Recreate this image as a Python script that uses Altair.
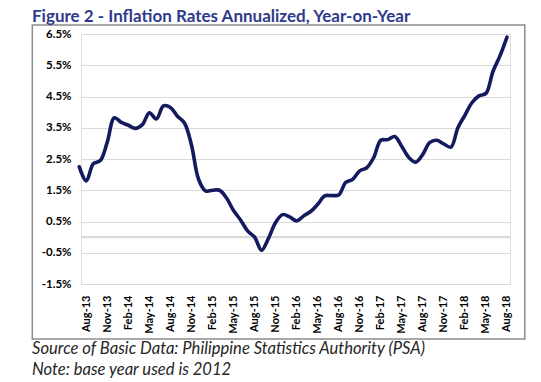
import altair as alt
import pandas as pd

# Monthly year-on-year inflation, Jul-13 .. Aug-18 (percent)
months = ["Jul-13", "Aug-13", "Sep-13", "Oct-13", "Nov-13", "Dec-13",
          "Jan-14", "Feb-14", "Mar-14", "Apr-14", "May-14", "Jun-14",
          "Jul-14", "Aug-14", "Sep-14", "Oct-14", "Nov-14", "Dec-14",
          "Jan-15", "Feb-15", "Mar-15", "Apr-15", "May-15", "Jun-15",
          "Jul-15", "Aug-15", "Sep-15", "Oct-15", "Nov-15", "Dec-15",
          "Jan-16", "Feb-16", "Mar-16", "Apr-16", "May-16", "Jun-16",
          "Jul-16", "Aug-16", "Sep-16", "Oct-16", "Nov-16", "Dec-16",
          "Jan-17", "Feb-17", "Mar-17", "Apr-17", "May-17", "Jun-17",
          "Jul-17", "Aug-17", "Sep-17", "Oct-17", "Nov-17", "Dec-17",
          "Jan-18", "Feb-18", "Mar-18", "Apr-18", "May-18", "Jun-18",
          "Jul-18", "Aug-18"]
inflation = [2.25, 1.80, 2.35, 2.45, 3.05, 3.82,
             3.67, 3.58, 3.48, 3.60, 3.98, 3.78,
             4.20, 4.15, 3.87, 3.65, 2.95, 1.86,
             1.48, 1.50, 1.50, 1.25, 0.85, 0.55,
             0.20, 0.00, -0.42, -0.03, 0.47, 0.72,
             0.65, 0.52, 0.68, 0.82, 1.05, 1.32,
             1.33, 1.35, 1.75, 1.85, 2.12, 2.22,
             2.55, 3.10, 3.12, 3.22, 2.90, 2.55,
             2.40, 2.65, 3.03, 3.10, 2.98, 2.88,
             3.50, 3.90, 4.30, 4.52, 4.60, 5.30,
             5.80, 6.40]
tick_labels = ["Aug-13", "Nov-13", "Feb-14", "May-14", "Aug-14", "Nov-14",
               "Feb-15", "May-15", "Aug-15", "Nov-15", "Feb-16", "May-16",
               "Aug-16", "Nov-16", "Feb-17", "May-17", "Aug-17", "Nov-17",
               "Feb-18", "May-18", "Aug-18"]
y_ticks = [-1.5, -0.5, 0.5, 1.5, 2.5, 3.5, 4.5, 5.5, 6.5]

title_text = "Figure 2 - Inflation Rates Annualized, Year-on-Year"
note_lines = ["Source of Basic Data: Philippine Statistics Authority (PSA)",
              "Note: base year used is 2012"]

df = pd.DataFrame({"idx": list(range(len(months))), "month": months, "value": inflation})
tick_idx = [months.index(t) for t in tick_labels]

W, H = 429, 250
PAD_L, PAD_T = 73, 26
FONT = "Lato"

x_scale = alt.Scale(domain=[0.245, 61.43], nice=False, zero=False)
y_scale = alt.Scale(domain=[-1.5, 6.5], nice=False, zero=False)

label_expr = "{" + ",".join(f"'{i}':'{m}'" for i, m in zip(tick_idx, tick_labels)) + "}[datum.value]"

y_axis = alt.Axis(values=y_ticks,
                  labelExpr="(datum.value < 0 ? '-' : '') + format(abs(datum.value), '.1f') + '%'",
                  grid=True, gridColor="#D9D9D9", gridWidth=1.2,
                  ticks=False, domain=False, labelPadding=10,
                  labelFont=FONT, labelFontSize=11.5, labelFontWeight="bold",
                  labelColor="#000000")

zero_df = pd.DataFrame({"value": [0.0]})
zero_line = alt.Chart(zero_df).mark_rule(color="#D9D9D9", strokeWidth=2.2).encode(
    y=alt.Y("value:Q", scale=y_scale, title=None, axis=y_axis),
    x=alt.value(0), x2=alt.value(W)
)

line = alt.Chart(df).mark_line(
    color="#141A5E", strokeWidth=3.6, interpolate="catmull-rom",
    strokeCap="round", strokeJoin="round", clip=False
).encode(
    x=alt.X("idx:Q", scale=x_scale, title=None,
            axis=alt.Axis(values=tick_idx, labelExpr=label_expr, labelAngle=-90,
                          grid=False, ticks=False, domain=False, labelPadding=11,
                          labelFont=FONT, labelFontSize=11, labelFontWeight="bold",
                          labelColor="#000000", labelOverlap=False, labelFlush=False)),
    y=alt.Y("value:Q", scale=y_scale, title=None, axis=y_axis),
)

border = alt.Chart(zero_df).mark_rect(
    fill=None, stroke="#8C8C8C", strokeWidth=1.5
).encode(
    x=alt.value(-48.7), x2=alt.value(443.8), y=alt.value(-9), y2=alt.value(305)
)

title_df = pd.DataFrame({"t": [title_text]})
title = alt.Chart(title_df).mark_text(
    align="left", baseline="alphabetic", font=FONT, fontSize=17, fontWeight="bold",
    color="#2E3A8C"
).encode(x=alt.value(-49), y=alt.value(-12.5), text="t:N")

notes = []
for i, t in enumerate(note_lines):
    ndf = pd.DataFrame({"t": [t]})
    notes.append(alt.Chart(ndf).mark_text(
        align="left", baseline="alphabetic", font=FONT, fontSize=16.6, fontStyle="italic",
        color="#262626"
    ).encode(x=alt.value(-49), y=alt.value(320 + 21 * i), text="t:N"))

chart = alt.layer(border, zero_line, line, title, *notes).properties(
    width=W, height=H,
    autosize=alt.AutoSizeParams(type="none"),
    padding={"left": PAD_L, "top": PAD_T, "right": 525 - PAD_L - W, "bottom": 374 - PAD_T - H},
).configure_view(stroke=None).configure(background="#FFFFFF")

chart.save("out.html", embed_options={"renderer": "svg", "actions": False})
